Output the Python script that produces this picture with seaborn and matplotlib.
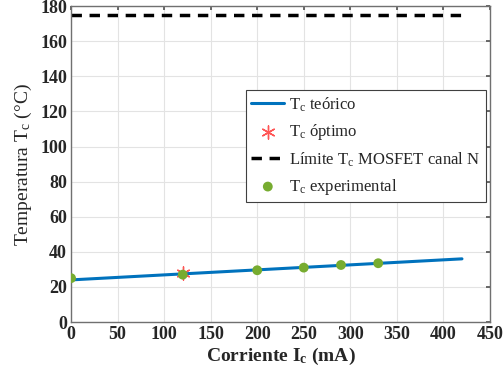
import matplotlib
matplotlib.use("Agg")
import matplotlib.pyplot as plt
import seaborn as sns
import pandas as pd

sns.set_theme(style="white")
plt.rcParams['font.family'] = ['Liberation Serif', 'DejaVu Serif']
plt.rcParams['mathtext.fontset'] = 'custom'
plt.rcParams['mathtext.rm'] = 'Liberation Serif'
plt.rcParams['mathtext.it'] = 'Liberation Serif:italic'
plt.rcParams['mathtext.bf'] = 'Liberation Serif:bold'

# Data
teo_x = [0, 420]
teo_y = [24.0, 36.0]
opt_x = [120]
opt_y = [28.0]
lim_x = [0, 420]
lim_y = [175, 175]
exp_x = [0, 120, 200, 250, 290, 330]
exp_y = [25.0, 27.0, 29.5, 31.0, 32.5, 33.5]
xticks = list(range(0, 451, 50))
yticks = list(range(0, 181, 20))

fig = plt.figure(figsize=(5.04, 3.82), dpi=100)
ax = fig.add_axes([0.141, 0.157, 0.831, 0.827])

sns.lineplot(x=teo_x, y=teo_y, ax=ax, color='#0072BD', linewidth=2.2,
             label=r'T$_\mathregular{c}$ teórico')
sns.scatterplot(x=opt_x, y=opt_y, ax=ax, marker=(6, 2, 0), color='#FF5555',
                s=90, linewidth=1.0, edgecolor='#FF5555', zorder=3,
                label=r'T$_\mathregular{c}$ óptimo')
sns.lineplot(x=lim_x, y=lim_y, ax=ax, color='black', linewidth=2.5,
             linestyle=(0, (3, 2.2)), label=r'Límite T$_\mathregular{c}$ MOSFET canal N')
sns.scatterplot(x=exp_x, y=exp_y, ax=ax, color='#77AC30', s=50, edgecolor='none',
                zorder=4, label=r'T$_\mathregular{c}$ experimental')

ax.set_xlim(0, 450)
ax.set_ylim(0, 180)
ax.set_xticks(xticks)
ax.set_yticks(yticks)
ax.set_xticklabels([str(t) for t in xticks], fontweight='bold', fontsize=13)
ax.set_yticklabels([str(t) for t in yticks], fontweight='bold', fontsize=13)
ax.grid(True, color='#E3E3E3', linewidth=0.8)
ax.tick_params(direction='in', length=3, top=True, right=True, color='#555555', pad=3)
for s in ax.spines.values():
    s.set_color('#707070')
    s.set_linewidth(1.0)

ax.set_xlabel(r'Corriente I$_\mathbf{c}$ (mA)', fontsize=14, fontweight='bold', labelpad=2)
ax.set_ylabel(r'Temperatura T$_\mathregular{c}$ (°C)', fontsize=14, labelpad=4)

leg = ax.legend(loc='upper left', bbox_to_anchor=(0.418, 0.734), fontsize=12,
                frameon=True, fancybox=False, edgecolor='#404040', framealpha=1,
                handlelength=2.0, borderpad=0.3, labelspacing=0.5, handletextpad=0.3,
                borderaxespad=0)
leg.get_frame().set_linewidth(0.8)

fig.savefig('out.png', dpi=100)
